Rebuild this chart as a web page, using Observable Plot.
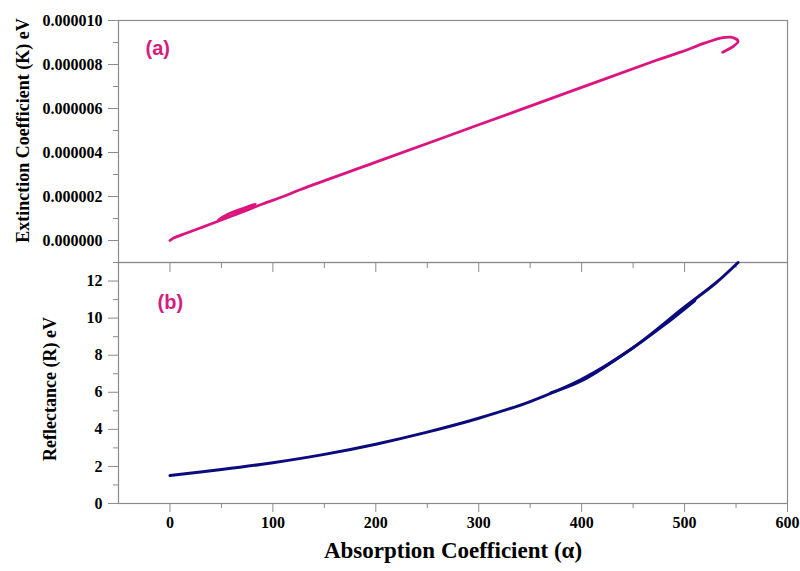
<!DOCTYPE html>
<html>
<head>
<meta charset="utf-8">
<script src="https://cdn.jsdelivr.net/npm/d3@7"></script>
<script src="https://cdn.jsdelivr.net/npm/@observablehq/plot@0.6"></script>
<style>
  html, body { margin: 0; padding: 0; background: white; }
  #chart { position: relative; width: 800px; height: 571px; }
  #chart svg { position: absolute; left: 0; }
</style>
</head>
<body>
<div id="chart"></div>
<script>
// ---- data ----
// Panel (a): extinction coefficient K vs absorption coefficient α (ordered along the trace)
const alphaA = [0, 4, 15, 30, 48, 65, 83, 70, 55, 47, 60, 75, 90, 110, 127, 200, 300, 400, 472, 496, 520, 535, 545, 552, 548, 537];
const kA = [0, 0.12, 0.32, 0.58, 0.9, 1.22, 1.66, 1.44, 1.16, 0.93, 1.12, 1.38, 1.66, 2.0, 2.32, 3.56, 5.26, 6.96, 8.18, 8.56, 8.98, 9.2, 9.24, 9.06, 8.85, 8.56].map(v => v * 1e-6);
// Panel (b): reflectance R vs α (outward branch, then return branch)
const alphaB1 = [0, 50, 100, 150, 200, 250, 300, 350, 400, 450, 500, 530, 552];
const rB1 = [1.51, 1.83, 2.2, 2.65, 3.2, 3.85, 4.6, 5.5, 6.7, 8.4, 10.6, 11.88, 13.0];
const alphaB2 = [510, 480, 440, 400, 370];
const rB2 = [10.95, 9.62, 8.02, 6.62, 5.97];

// tick values
const xMajor = [0, 100, 200, 300, 400, 500, 600];
const xMinor = [50, 150, 250, 350, 450, 550];
const kMajor = [0, 2e-6, 4e-6, 6e-6, 8e-6, 1e-5];
const kMinor = [-1e-6, 1e-6, 3e-6, 5e-6, 7e-6, 9e-6];
const rMajor = [0, 2, 4, 6, 8, 10, 12];
const rMinor = [1, 3, 5, 7, 9, 11, 13];

const xTitle = "Absorption Coefficient (α)";
const yTitleA = "Extinction Coefficient (K) eV";
const yTitleB = "Reflectance (R) eV";

// ---- build tables ----
const dataA = alphaA.map((a, i) => ({a, k: kA[i]}));
const dataB = [
  ...alphaB1.map((a, i) => ({a, r: rB1[i], s: "out"})),
  ...alphaB2.map((a, i) => ({a, r: rB2[i], s: "back"}))
];

const GRAY = "#8c8c8c";
const serif = "'Liberation Serif', 'Times New Roman', serif";
const sans = "'Liberation Sans', Arial, sans-serif";
const baseStyle = {background: "transparent", overflow: "visible", fontFamily: serif, fontWeight: "bold", fontSize: "16px", color: "black"};

const xDomain = [-50, 600];

const plotA = Plot.plot({
  width: 800, height: 280,
  marginLeft: 118, marginRight: 13, marginTop: 20, marginBottom: 18,
  style: baseStyle,
  x: {domain: xDomain, axis: null},
  y: {domain: [-1e-6, 1e-5], axis: null},
  marks: [
    Plot.frame({stroke: GRAY, strokeWidth: 1.2}),
    Plot.axisY({ticks: kMajor, tickSize: 10, tickPadding: 6, tickFormat: d3.format(".6f"), stroke: GRAY, fill: "black", label: null, fontSize: 16, fontWeight: "bold"}),
    Plot.axisY({ticks: kMinor, tickSize: 5, tickFormat: () => "", stroke: GRAY, label: null}),
    Plot.axisX({ticks: xMajor, tickSize: 10, tickFormat: () => "", stroke: GRAY, label: null}),
    Plot.axisX({ticks: xMinor, tickSize: 6, tickFormat: () => "", stroke: GRAY, label: null}),
    Plot.line(dataA, {x: "a", y: "k", stroke: "#dc1480", strokeWidth: 2.8, curve: "catmull-rom"}),
    Plot.text(["(a)"], {text: d => d, frameAnchor: "top-left", dx: 27, dy: 28, textAnchor: "start", lineAnchor: "middle", fill: "#d81b80", fontFamily: sans, fontWeight: "bold", fontSize: 20}),
    Plot.text([yTitleA], {text: d => d, frameAnchor: "left", dx: -95, dy: -11, rotate: -90, textAnchor: "middle", lineAnchor: "middle", fill: "black", fontFamily: serif, fontWeight: "bold", fontSize: 18})
  ]
});

const plotB = Plot.plot({
  width: 800, height: 319,
  marginLeft: 118, marginRight: 13, marginTop: 10, marginBottom: 68,
  style: baseStyle,
  x: {domain: xDomain, axis: null},
  y: {domain: [0, 13], axis: null},
  marks: [
    Plot.frame({stroke: GRAY, strokeWidth: 1.2}),
    Plot.axisY({ticks: rMajor, tickSize: 10, tickPadding: 6, stroke: GRAY, fill: "black", label: null, fontSize: 16, fontWeight: "bold"}),
    Plot.axisY({ticks: rMinor, tickSize: 5, tickFormat: () => "", stroke: GRAY, label: null}),
    Plot.axisX({ticks: xMajor, tickSize: 9, tickPadding: 4, stroke: GRAY, fill: "black", label: null, fontSize: 16, fontWeight: "bold"}),
    Plot.axisX({ticks: xMinor, tickSize: 5, tickFormat: () => "", stroke: GRAY, label: null}),
    Plot.line(dataB, {x: "a", y: "r", z: "s", stroke: "#0b0b7e", strokeWidth: 3, curve: "catmull-rom"}),
    Plot.text(["(b)"], {text: d => d, frameAnchor: "top-left", dx: 39, dy: 40, textAnchor: "start", lineAnchor: "middle", fill: "#d81b80", fontFamily: sans, fontWeight: "bold", fontSize: 20}),
    Plot.text([yTitleB], {text: d => d, frameAnchor: "left", dx: -68, dy: 6, rotate: -90, textAnchor: "middle", lineAnchor: "middle", fill: "black", fontFamily: serif, fontWeight: "bold", fontSize: 18}),
    Plot.text([xTitle], {text: d => d, frameAnchor: "bottom", dy: 47, textAnchor: "middle", lineAnchor: "middle", fill: "black", fontFamily: serif, fontWeight: "bold", fontSize: 23})
  ]
});

const chart = document.getElementById("chart");
plotA.style.top = "0px";
plotB.style.top = "252px";
chart.appendChild(plotA);
chart.appendChild(plotB);
</script>
</body>
</html>
